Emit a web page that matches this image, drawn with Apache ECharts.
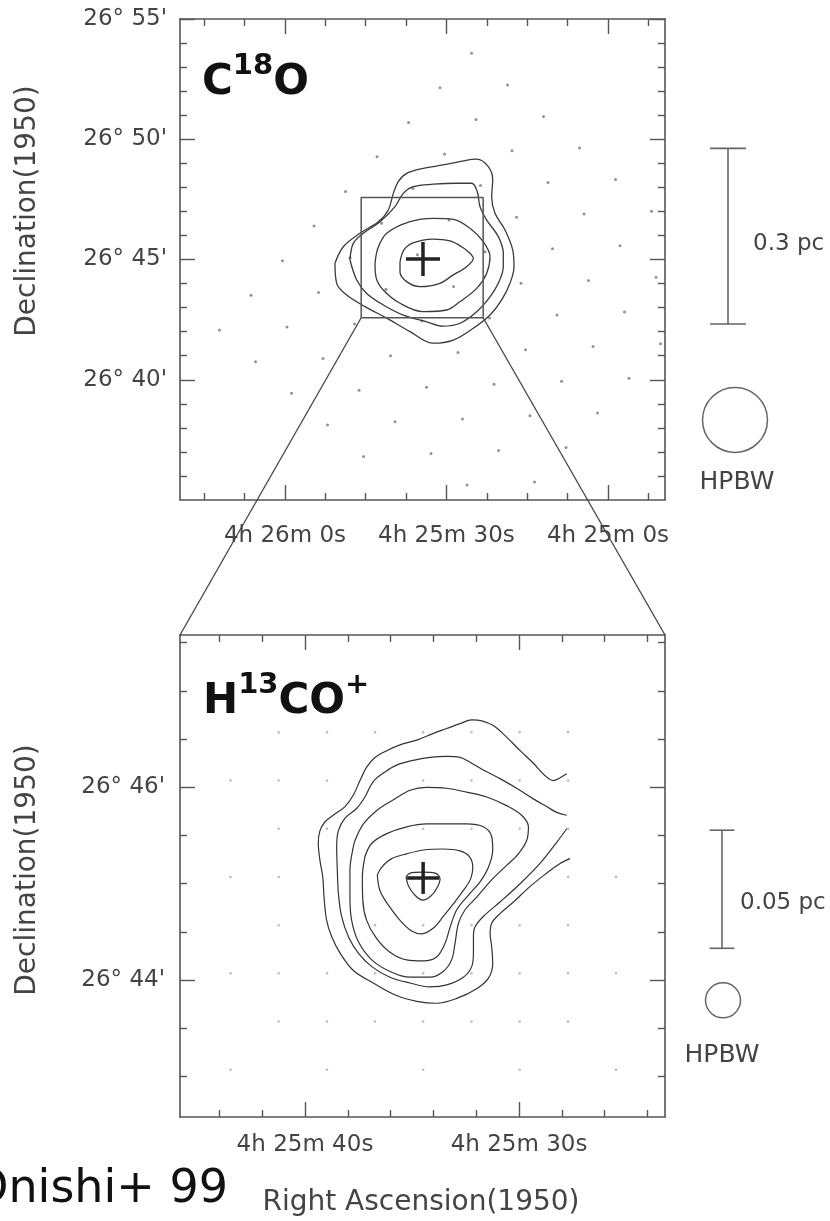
<!DOCTYPE html>
<html><head><meta charset="utf-8">
<script src="https://cdn.jsdelivr.net/npm/echarts@6/dist/echarts.min.js"></script>
<style>html,body{margin:0;padding:0;background:#fff}#c{width:830px;height:1221px}</style>
</head><body><div id="c"></div>
<script>
// ===== DATA (RA in seconds after 4h25m0s, Dec in arcmin after 26 deg, B1950) =====
// --- top panel (C18O) axes ---
const topRaRange = [-10.6, 79.5];
const topDecRange = [35, 55];
const topRaMajor = [60, 30, 0];
const topRaLabels = ['4h 26m 0s', '4h 25m 30s', '4h 25m 0s'];
const topRaMinor = [75, 67.5, 52.5, 45, 37.5, 22.5, 15, 7.5, -7.5];
const topDecMajor = [55, 50, 45, 40];
const topDecLabels = ["26\u00b0 55'", "26\u00b0 50'", "26\u00b0 45'", "26\u00b0 40'"];
const topDecMinor = [36, 37, 38, 39, 41, 42, 43, 44, 46, 47, 48, 49, 51, 52, 53, 54];
// --- bottom panel (H13CO+) axes ---
const botRaRange = [23.18, 45.84];
const botDecRange = [42.58, 47.58];
const botRaMajor = [40, 30];
const botRaLabels = ['4h 25m 40s', '4h 25m 30s'];
const botRaMinor = [44, 42, 38, 36, 34, 32, 28, 26, 24];
const botDecMajor = [46, 44];
const botDecLabels = ["26\u00b0 46'", "26\u00b0 44'"];
const botDecMinor = [43, 43.5, 44.5, 45, 45.5, 46.5, 47, 47.5];

// --- observed positions (dots) ---
const c18oPoints = [
 [25.34,53.58],
 [31.20,52.14],[18.66,52.26],
 [37.05,50.70],[24.51,50.82],[11.97,50.95],
 [42.90,49.27],[30.36,49.39],[17.82,49.52],[5.28,49.64],
 [48.75,47.83],[36.21,47.95],[23.67,48.08],[11.13,48.20],[-1.41,48.33],
 [54.60,46.39],[42.06,46.51],[29.52,46.64],[16.98,46.76],[4.44,46.89],[-8.10,47.01],
 [60.46,44.95],[47.92,45.07],[35.38,45.20],[22.84,45.32],[10.30,45.45],[-2.24,45.57],
 [66.31,43.51],[53.77,43.63],[41.23,43.76],[28.69,43.88],[16.15,44.01],[3.61,44.13],[-8.93,44.26],
 [72.16,42.07],[59.62,42.19],[47.08,42.32],[34.54,42.44],[22.00,42.57],[9.46,42.69],[-3.08,42.82],
 [65.47,40.75],[52.93,40.88],[40.39,41.00],[27.85,41.13],[15.31,41.25],[2.77,41.38],[-9.77,41.50],
 [58.78,39.44],[46.24,39.56],[33.70,39.69],[21.16,39.81],[8.62,39.94],[-3.92,40.06],
 [52.10,38.12],[39.56,38.25],[27.02,38.37],[14.48,38.50],[1.94,38.62],
 [45.41,36.81],[32.87,36.93],[20.33,37.06],[7.79,37.18],
 [26.18,35.62],[13.64,35.75]
];
const h13Points = [
 [41.23,46.57],[38.97,46.57],[36.73,46.57],[34.48,46.57],[32.22,46.57],[29.97,46.57],[27.71,46.57],
 [43.48,46.07],[41.23,46.07],[38.97,46.07],[34.48,46.07],[32.22,46.07],[29.97,46.07],[27.71,46.07],
 [41.23,45.57],[38.97,45.57],[34.48,45.57],[32.22,45.57],[29.97,45.57],[27.71,45.57],
 [43.48,45.07],[41.23,45.07],[27.71,45.07],[25.47,45.07],
 [41.23,44.57],[36.73,44.57],[34.48,44.57],[32.22,44.57],[29.97,44.57],[27.71,44.57],
 [43.48,44.07],[41.23,44.07],[38.97,44.07],[36.73,44.07],[34.48,44.07],[32.22,44.07],[29.97,44.07],[27.71,44.07],[25.47,44.07],
 [41.23,43.57],[38.97,43.57],[36.73,43.57],[34.48,43.57],[32.22,43.57],[29.97,43.57],[27.71,43.57],
 [43.48,43.07],[38.97,43.07],[34.48,43.07],[29.97,43.07],[25.47,43.07]
];

// --- C18O contours (outer -> inner) ---
const c18oL1 = [[50.71,44.84],[49.16,45.53],[46.06,46.09],[42.66,46.57],[40.80,47.06],[39.87,47.75],[38.95,48.24],[37.39,48.58],[34.30,48.79],[30.59,48.93],[26.87,49.10],[24.38,49.17],[22.23,48.86],[21.41,48.31],[21.60,47.61],[20.98,46.92],[19.12,46.23],[17.69,45.40],[17.45,44.70],[18.20,44.01],[19.74,43.32],[21.91,42.69],[25.01,42.14],[28.73,41.65],[32.44,41.52],[36.77,42.00],[41.10,42.56],[45.13,43.04],[48.53,43.52],[50.39,44.01],[50.71,44.84]];
const c18oL2 = [[47.92,44.98],[47.31,45.67],[45.45,46.09],[42.35,46.57],[39.56,47.20],[38.02,47.75],[36.16,48.03],[32.44,48.13],[28.10,48.17],[25.31,48.17],[24.27,47.82],[23.77,47.20],[22.52,46.64],[20.37,45.95],[19.44,45.26],[19.44,44.70],[20.37,44.01],[21.91,43.45],[24.38,42.83],[27.48,42.35],[30.64,42.23],[33.67,42.41],[38.02,42.69],[41.73,43.11],[44.82,43.59],[46.67,44.15],[47.92,44.98]];
const c18oL3 = [[43.27,44.84],[42.72,45.48],[41.10,46.09],[36.77,46.57],[32.44,46.71],[28.73,46.67],[25.63,46.30],[23.16,45.74],[21.91,45.12],[22.52,44.43],[24.38,43.80],[27.48,43.25],[29.96,42.90],[34.30,42.83],[38.63,43.18],[41.73,43.73],[43.09,44.27],[43.27,44.84]];
const c18oL4 = [[38.63,44.90],[37.89,45.40],[36.22,45.69],[32.50,45.85],[29.34,45.77],[27.11,45.52],[25.63,45.26],[25.01,45.05],[26.24,44.70],[28.73,44.36],[31.20,44.01],[34.92,43.87],[37.39,44.08],[38.63,44.48],[38.63,44.90]];

// --- H13CO+ contours (outer -> inner) ---
const h13L1 = [[27.77,46.14],[28.08,46.10],[28.40,46.07],[28.78,46.12],[29.33,46.25],[29.95,46.38],[30.58,46.52],[31.20,46.64],[31.74,46.69],[32.21,46.70],[32.76,46.66],[33.38,46.61],[34.00,46.56],[34.78,46.49],[35.56,46.44],[36.18,46.38],[36.73,46.31],[37.12,46.21],[37.43,46.07],[37.74,45.92],[38.13,45.80],[38.68,45.71],[39.07,45.64],[39.30,45.55],[39.38,45.42],[39.30,45.24],[39.17,45.07],[39.11,44.86],[38.99,44.62],[38.75,44.45],[38.36,44.28],[37.74,44.10],[36.81,43.97],[35.72,43.84],[34.78,43.78],[33.85,43.76],[32.91,43.81],[31.98,43.91],[31.43,44.02],[31.23,44.17],[31.28,44.35],[31.35,44.48],[31.28,44.59],[30.89,44.69],[30.26,44.81],[29.49,44.97],[28.71,45.11],[28.08,45.21],[27.62,45.26]];
const h13L2 = [[27.77,45.71],[28.24,45.74],[28.71,45.80],[29.33,45.88],[30.11,45.99],[30.89,46.09],[31.67,46.18],[32.29,46.26],[32.76,46.31],[33.38,46.32],[34.16,46.31],[34.94,46.28],[35.72,46.23],[36.26,46.16],[36.81,46.06],[37.20,45.90],[37.59,45.78],[38.13,45.68],[38.44,45.55],[38.52,45.38],[38.49,45.14],[38.44,44.90],[38.29,44.66],[37.97,44.45],[37.51,44.28],[36.88,44.14],[36.03,44.03],[35.09,43.97],[34.16,43.93],[33.38,43.95],[32.60,44.03],[32.21,44.14],[32.13,44.28],[32.13,44.45],[32.06,44.55],[31.67,44.66],[30.89,44.81],[29.95,45.00],[29.02,45.21],[28.24,45.43],[27.77,45.57]];
const h13L3 = [[37.77,45.35],[37.66,45.45],[37.27,45.62],[36.65,45.76],[35.87,45.87],[35.09,45.97],[34.31,46.00],[33.38,45.99],[32.45,45.95],[31.51,45.90],[30.58,45.81],[29.88,45.71],[29.56,45.59],[29.64,45.45],[30.03,45.31],[30.58,45.19],[31.28,45.04],[31.98,44.86],[32.52,44.73],[32.83,44.59],[32.99,44.38],[33.15,44.21],[33.54,44.09],[34.16,44.03],[35.09,44.03],[36.03,44.09],[36.88,44.21],[37.51,44.40],[37.82,44.62],[37.90,44.86],[37.90,45.14],[37.77,45.35]];
const h13L4 = [[37.20,45.28],[36.88,45.42],[36.18,45.52],[35.25,45.59],[34.31,45.62],[33.38,45.62],[32.45,45.62],[31.67,45.59],[31.28,45.49],[31.23,45.35],[31.43,45.17],[31.82,45.02],[32.37,44.88],[32.91,44.73],[33.22,44.55],[33.46,44.38],[33.85,44.24],[34.47,44.20],[35.25,44.21],[36.03,44.29],[36.65,44.43],[37.12,44.62],[37.30,44.83],[37.32,45.07],[37.20,45.28]];
const h13L5 = [[36.62,45.09],[36.42,45.17],[35.95,45.26],[35.25,45.31],[34.47,45.35],[33.54,45.36],[32.76,45.34],[32.32,45.28],[32.16,45.17],[32.26,45.05],[32.60,44.93],[33.07,44.79],[33.54,44.66],[34.00,44.54],[34.55,44.48],[35.02,44.51],[35.56,44.62],[36.11,44.78],[36.50,44.93],[36.62,45.09]];
const h13L6 = [[35.28,45.07],[35.09,45.11],[34.50,45.12],[33.92,45.11],[33.69,45.05],[33.85,44.95],[34.13,44.87],[34.50,44.83],[34.86,44.88],[35.17,44.98],[35.28,45.07]];

// --- peaks (crosses) ---
const c18oPeak = [34.36, 45.02];
const h13Peak = [34.48, 45.06];

// --- scale bars and beams (Dec extents in arcmin) ---
const topScaleBar = [42.32, 49.62];  // 0.3 pc
const topBeam = [38.33, 2.70];       // [center Dec, HPBW arcmin]
const botScaleBar = [44.33, 45.555]; // 0.05 pc
const botBeam = [43.79, 0.363];
const topScaleText = '0.3 pc';
const botScaleText = '0.05 pc';

// ===== CHART =====
const chart = echarts.init(document.getElementById('c'), null, {renderer: 'canvas'});
const AX = '#555';
const FONT = 'DejaVu Sans';
const TXT = '#444';

function nearestLabel(vals, labels) {
  return function (v) {
    let bi = 0, bd = Infinity;
    vals.forEach(function (t, i) { const d = Math.abs(t - v); if (d < bd) { bd = d; bi = i; } });
    return labels[bi];
  };
}
function makeAxes(gridIndex, range, major, labels, minor, dim, margin) {
  const isX = dim === 'x';
  const sides = isX ? ['bottom', 'top'] : ['left', 'right'];
  const out = [];
  sides.forEach(function (pos, si) {
    [0, 1].forEach(function (kind) {
      out.push({
        type: 'value', gridIndex: gridIndex, min: range[0], max: range[1], inverse: isX,
        position: pos, offset: 0, scale: true,
        axisLine: {show: kind === 0, onZero: false, lineStyle: {color: AX, width: 1.6}},
        axisTick: {show: true, inside: true, length: kind === 0 ? 15 : 7,
                   customValues: kind === 0 ? major : minor, lineStyle: {color: AX, width: 1.4}},
        axisLabel: {show: kind === 0 && si === 0, customValues: major,
                    formatter: nearestLabel(major, labels), margin: margin,
                    color: TXT, fontFamily: FONT, fontSize: 23},
        splitLine: {show: false}, minorTick: {show: false}, minorSplitLine: {show: false},
        axisPointer: {show: false}
      });
    });
  });
  return out;
}

const xAxes = makeAxes(0, topRaRange, topRaMajor, topRaLabels, topRaMinor, 'x', 25)
  .concat(makeAxes(1, botRaRange, botRaMajor, botRaLabels, botRaMinor, 'x', 17));
const yAxes = makeAxes(0, topDecRange, topDecMajor, topDecLabels, topDecMinor, 'y', 13)
  .concat(makeAxes(1, botDecRange, botDecMajor, botDecLabels, botDecMinor, 'y', 15));

function crossRender(h) {
  return function (params, api) {
    const p = api.coord([api.value(0), api.value(1)]);
    return {type: 'group', children: [
      {type: 'line', shape: {x1: p[0] - h, y1: p[1], x2: p[0] + h, y2: p[1]}, style: {stroke: '#222', lineWidth: 3.5}},
      {type: 'line', shape: {x1: p[0], y1: p[1] - h, x2: p[0], y2: p[1] + h}, style: {stroke: '#222', lineWidth: 3.5}}
    ]};
  };
}
function legendRender(bar, beam, label, cfg) {
  return function (params, api) {
    const cs = params.coordSys;
    const xr = cs.x + cs.width;
    const ra = api.value(0);
    const yTop = api.coord([ra, bar[1]])[1];
    const yBot = api.coord([ra, bar[0]])[1];
    const yMid = (yTop + yBot) / 2;
    const bx = xr + cfg.barDx;
    const cy = api.coord([ra, beam[0]])[1];
    const r = Math.abs(api.size([0, beam[1]])[1]) / 2;
    const cx = xr + cfg.beamDx;
    const st = {stroke: '#666', lineWidth: 1.6};
    return {type: 'group', children: [
      {type: 'line', shape: {x1: bx, y1: yTop, x2: bx, y2: yBot}, style: st},
      {type: 'line', shape: {x1: bx - cfg.cap, y1: yTop, x2: bx + cfg.cap, y2: yTop}, style: st},
      {type: 'line', shape: {x1: bx - cfg.cap, y1: yBot, x2: bx + cfg.cap, y2: yBot}, style: st},
      {type: 'circle', shape: {cx: cx, cy: cy, r: r}, style: {fill: 'none', stroke: '#666', lineWidth: 1.5}},
      {type: 'text', x: xr + cfg.textDx, y: yMid + cfg.textDy,
       style: {text: label, fill: TXT, font: '23px ' + FONT, align: 'left', verticalAlign: 'middle'}},
      {type: 'text', x: cx + cfg.hpDx, y: cy + cfg.hpDy,
       style: {text: 'HPBW', fill: TXT, font: '25px ' + FONT, align: 'center', verticalAlign: 'middle'}}
    ]};
  };
}

const series = [];
series.push({type: 'scatter', xAxisIndex: 0, yAxisIndex: 0, data: c18oPoints, symbolSize: 3,
  itemStyle: {color: '#777'}, silent: true, z: 2});
series.push({type: 'scatter', xAxisIndex: 4, yAxisIndex: 4, data: h13Points, symbolSize: 2.5,
  itemStyle: {color: '#aaa'}, silent: true, z: 2});
[c18oL1, c18oL2, c18oL3, c18oL4].forEach(function (d) {
  series.push({type: 'line', xAxisIndex: 0, yAxisIndex: 0, data: d, symbol: 'none', smooth: 0.35,
    lineStyle: {color: '#3a3a3a', width: 1.3}, silent: true, z: 3});
});
[h13L1, h13L2, h13L3, h13L4, h13L5, h13L6].forEach(function (d) {
  series.push({type: 'line', xAxisIndex: 4, yAxisIndex: 4, data: d, symbol: 'none', smooth: 0.35,
    lineStyle: {color: '#333', width: 1.2}, silent: true, z: 3});
});
// zoom box in top panel = extent of bottom panel
series.push({type: 'line', xAxisIndex: 0, yAxisIndex: 0, symbol: 'none', silent: true, z: 4,
  data: [[botRaRange[1], botDecRange[0]], [botRaRange[0], botDecRange[0]], [botRaRange[0], botDecRange[1]],
         [botRaRange[1], botDecRange[1]], [botRaRange[1], botDecRange[0]]],
  lineStyle: {color: '#555', width: 1.5}});
series.push({type: 'custom', coordinateSystem: 'cartesian2d', xAxisIndex: 0, yAxisIndex: 0,
  data: [c18oPeak], renderItem: crossRender(17), silent: true, z: 5});
series.push({type: 'custom', coordinateSystem: 'cartesian2d', xAxisIndex: 4, yAxisIndex: 4,
  data: [h13Peak], renderItem: crossRender(16), silent: true, z: 5});
series.push({type: 'custom', coordinateSystem: 'cartesian2d', xAxisIndex: 0, yAxisIndex: 0, clip: false,
  data: [[30, 45]], silent: true, z: 5,
  renderItem: legendRender(topScaleBar, topBeam, topScaleText,
    {barDx: 63, cap: 18, beamDx: 70, textDx: 88, textDy: 8, hpDx: 2, hpDy: 63})});
series.push({type: 'custom', coordinateSystem: 'cartesian2d', xAxisIndex: 4, yAxisIndex: 4, clip: false,
  data: [[34, 45]], silent: true, z: 5,
  renderItem: legendRender(botScaleBar, botBeam, botScaleText,
    {barDx: 57, cap: 12.5, beamDx: 58, textDx: 75, textDy: 14, hpDx: -1, hpDy: 55})});

const richB = {fontSize: 42, fontWeight: 'bold', fontFamily: FONT, fill: '#111', lineHeight: 52, verticalAlign: 'bottom'};
const richS = {fontSize: 29, fontWeight: 'bold', fontFamily: FONT, fill: '#111', lineHeight: 29, verticalAlign: 'top'};

const option = {
  animation: false,
  backgroundColor: '#fff',
  grid: [
    {left: 180, top: 19, width: 485, height: 481},
    {left: 180, top: 635, width: 485, height: 482}
  ],
  xAxis: xAxes,
  yAxis: yAxes,
  series: series,
  graphic: [
    {type: 'text', x: 28, y: 211, rotation: Math.PI / 2,
     style: {text: 'Declination(1950)', font: '28px ' + FONT, fill: TXT, align: 'center', verticalAlign: 'middle'}},
    {type: 'text', x: 28, y: 870, rotation: Math.PI / 2,
     style: {text: 'Declination(1950)', font: '28px ' + FONT, fill: TXT, align: 'center', verticalAlign: 'middle'}},
    {type: 'text', x: 421, y: 1203,
     style: {text: 'Right Ascension(1950)', font: '28px ' + FONT, fill: TXT, align: 'center', verticalAlign: 'middle'}},
    {type: 'text', x: 228, y: 1190,
     style: {text: 'Onishi+ 99', font: '46px ' + FONT, fill: '#111', align: 'right', verticalAlign: 'middle'}},
    {type: 'text', x: 202, y: 52,
     style: {text: '{b|C}{s|18}{b|O}', rich: {b: richB, s: richS}, align: 'left', verticalAlign: 'top'}},
    {type: 'text', x: 203, y: 671,
     style: {text: '{b|H}{s|13}{b|CO}{s|+}', rich: {b: richB, s: richS}, align: 'left', verticalAlign: 'top'}}
  ]
};
chart.setOption(option);

// connecting lines from the zoom box to the bottom panel, through both panels' scales
const f0 = {xAxisIndex: 0, yAxisIndex: 0};
const f1 = {xAxisIndex: 4, yAxisIndex: 4};
const a1 = chart.convertToPixel(f0, [botRaRange[1], botDecRange[0]]);
const b1 = chart.convertToPixel(f1, [botRaRange[1], botDecRange[1]]);
const a2 = chart.convertToPixel(f0, [botRaRange[0], botDecRange[0]]);
const b2 = chart.convertToPixel(f1, [botRaRange[0], botDecRange[1]]);
const g = option.graphic.slice();
g.push({type: 'line', shape: {x1: a1[0], y1: a1[1], x2: b1[0], y2: b1[1]}, style: {stroke: '#444', lineWidth: 1.3}, z: 10});
g.push({type: 'line', shape: {x1: a2[0], y1: a2[1], x2: b2[0], y2: b2[1]}, style: {stroke: '#444', lineWidth: 1.3}, z: 10});
chart.setOption({graphic: g}, {replaceMerge: ['graphic']});
</script>
</body></html>
